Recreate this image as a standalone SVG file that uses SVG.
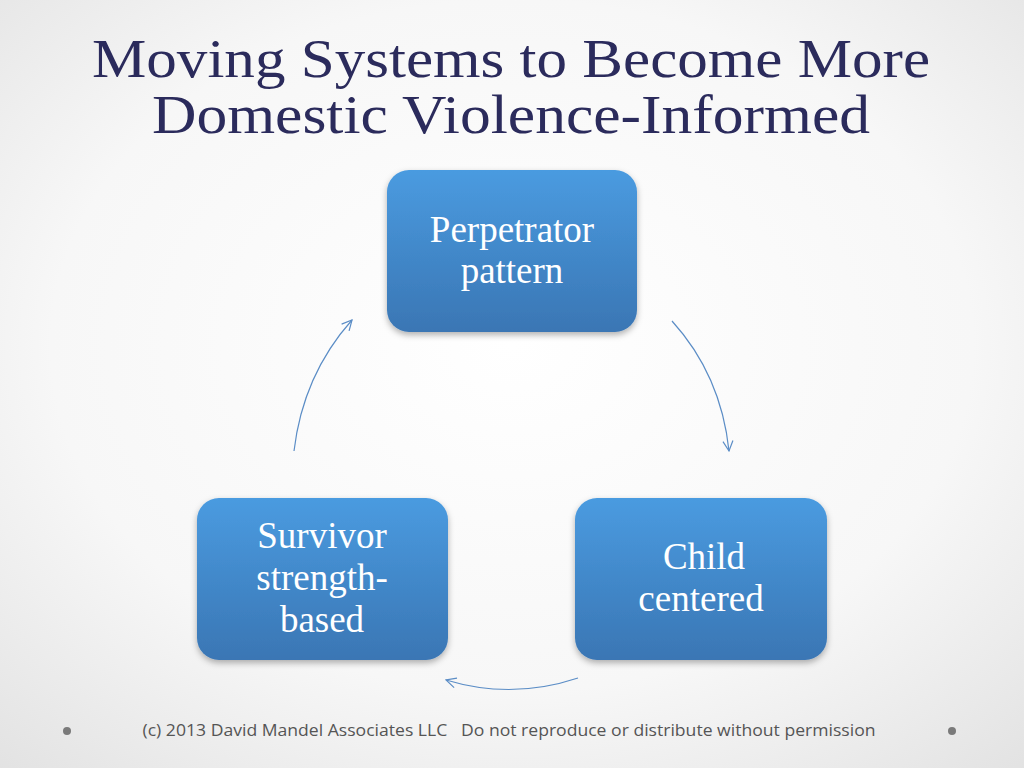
<svg xmlns="http://www.w3.org/2000/svg" width="1024" height="768" viewBox="0 0 1024 768">
<style>
.node rect{fill:url(#nodeGrad);filter:url(#sh)}
.node text{font-family:"Liberation Serif",serif;font-size:37px;fill:#fff;text-anchor:middle}
.conn path{fill:none;stroke:#5b8dc6;stroke-width:1.2;marker-end:url(#arr)}
.title{font-family:"Liberation Serif",serif;font-size:54px;fill:#2b2b5c;text-anchor:middle}
</style>
<defs>
<radialGradient id="bg" cx="0.5" cy="0.45" r="0.75">
<stop offset="0" stop-color="#ffffff"/><stop offset="0.6" stop-color="#f7f7f7"/><stop offset="1" stop-color="#e2e2e2"/>
</radialGradient>
<linearGradient id="nodeGrad" x1="0" y1="0" x2="0" y2="1">
<stop offset="0" stop-color="#4a9be0"/><stop offset="1" stop-color="#3a76b4"/>
</linearGradient>
<filter id="sh" x="-10%" y="-10%" width="120%" height="125%">
<feDropShadow dx="0" dy="3" stdDeviation="3" flood-color="#000" flood-opacity="0.3"/>
</filter>
<marker id="arr" viewBox="0 0 12 12" refX="11" refY="6" markerWidth="12" markerHeight="12" markerUnits="userSpaceOnUse" orient="auto">
<path d="M1,1 L11,6 L1,11" fill="none" stroke="#5b8dc6" stroke-width="1.2"/>
</marker>
</defs>
<rect width="1024" height="768" fill="url(#bg)"/>
<text class="title" x="511" y="77" textLength="838" lengthAdjust="spacingAndGlyphs">Moving Systems to Become More</text>
<text class="title" x="511" y="133" textLength="718" lengthAdjust="spacingAndGlyphs">Domestic Violence-Informed</text>
<g id="n1" class="node"><rect x="387" y="170" width="250" height="162" rx="22"/>
<text x="512" y="242">Perpetrator</text><text x="512" y="283">pattern</text></g>
<g id="n2" class="node"><rect x="575" y="498" width="252" height="162" rx="22"/>
<text x="704" y="569">Child</text><text x="701" y="611">centered</text></g>
<g id="n3" class="node"><rect x="197" y="498" width="251" height="162" rx="22"/>
<text x="322" y="548">Survivor</text><text x="322" y="590">strength-</text><text x="322" y="632">based</text></g>
<g id="connectors" class="conn">
<path d="M672,321 Q721,375 729,451"/>
<path d="M578,678 Q512,700 446,680"/>
<path d="M294,451 Q303,375 352,320"/>
</g>
<circle cx="67" cy="731" r="4" fill="#7a7a7a"/>
<circle cx="952" cy="731" r="4" fill="#7a7a7a"/>
<text x="509" y="736" font-family="'Open Sans','Liberation Sans',sans-serif" font-size="16.5" fill="#555" text-anchor="middle" textLength="733" lengthAdjust="spacingAndGlyphs" xml:space="preserve">(c) 2013 David Mandel Associates LLC   Do not reproduce or distribute without permission</text>
</svg>
